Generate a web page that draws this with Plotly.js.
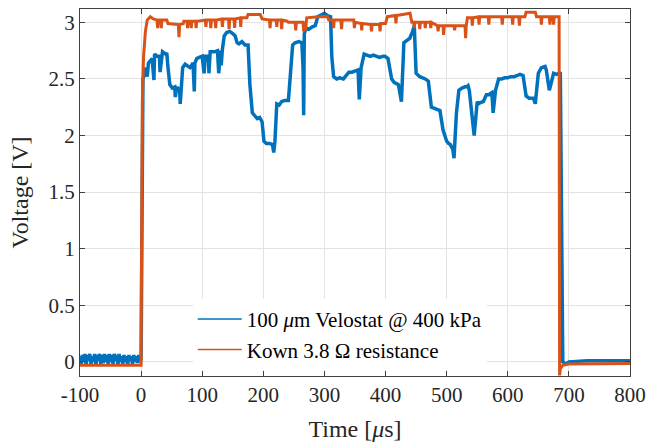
<!DOCTYPE html>
<html>
<head>
<meta charset="utf-8">
<script src="https://cdn.plot.ly/plotly-3.0.1.min.js"></script>
<style>html,body{margin:0;padding:0;background:#fff;}#chart{width:647px;height:445px;}</style>
</head>
<body>
<div id="chart"></div>
<script>
// ---- Series: 100 um Velostat @ 400 kPa ----
var blueT = [-100,-98,-96,-94,-92,-90,-88,-86,-84,-82,-80,-78,-76,-74,-72,-70,-68,-66,-64,-62,-60,-58,-56,-54,-52,-50,
  -48,-46,-44,-42,-40,-38,-36,-34,-32,-30,-28,-26,-24,-22,-20,-18,-16,-14,-12,-10,-8,-6,-4,-2,0,
  0.5,1.5,3,6,8,10,12,15,18,21,22,26,30,31,35,40,42,44,47,51,55,56,58,60,63,64,66,68,72,75,80,85,87,88,91,95,100,103,105,110,111,113,120,125,127,130,131,133,136,140,145,150,154,157,160,165,170,175,178,182,186,190,194,198,201,205,210,215,217,219,222,226,230,235,241,245,248,252,258,263,265,266,267,270,275,280,285,289,295,300,305,310,312,315,320,325,331,334,340,345,350,354,355,357,360,365,370,375,380,385,390,396,399,404,410,414,418,419,421,426,430,435,440,441,443,447,450,456,462,465,470,475,480,485,486,489,494,500,503,506,508,510,512,516,520,525,530,533,535,537,539,545,550,552,555,560,565,570,571,574,576,580,585,590,595,600,605,610,615,618,620,625,630,635,638,640,642,645,650,655,660,661,663,668,675,680,684,
  685,686,690,695,700,710,720,730,740,750,760,770,780,790,800];
var blueV = [0.05,-0.02,0.06,0.00,0.07,-0.03,0.06,0.01,0.07,-0.02,0.05,0.00,0.07,-0.03,0.06,0.01,0.07,-0.02,0.06,-0.01,0.07,0.00,0.06,-0.02,0.07,0.00,
  0.06,-0.02,0.07,0.01,0.06,-0.03,0.07,0.00,0.05,-0.02,0.06,0.00,0.05,-0.03,0.06,0.01,0.05,-0.02,0.06,0.00,0.05,-0.01,0.06,0.00,0.02,
  0.8,2.3,2.5,2.55,2.6,2.52,2.64,2.66,2.68,2.49,2.72,2.70,2.70,2.56,2.74,2.72,2.73,2.6,2.45,2.42,2.43,2.34,2.42,2.42,2.40,2.28,2.42,2.6,2.63,2.62,2.6,2.64,2.39,2.64,2.68,2.69,2.70,2.55,2.70,2.70,2.55,2.74,2.74,2.75,2.55,2.75,2.62,2.76,2.88,2.91,2.92,2.9,2.88,2.82,2.81,2.83,2.80,2.80,2.45,2.2,2.17,2.15,2.16,2.12,1.95,1.93,1.93,1.92,1.85,1.95,2.28,2.27,2.30,2.31,2.31,2.6,2.80,2.82,2.83,2.82,2.6,2.18,2.9,2.95,2.94,2.96,2.97,3.05,3.07,3.08,3.06,3.05,2.7,2.52,2.50,2.51,2.50,2.52,2.56,2.56,2.57,2.57,2.58,2.32,2.6,2.72,2.71,2.70,2.71,2.70,2.69,2.70,2.70,2.68,2.50,2.47,2.46,2.46,2.45,2.30,2.82,2.84,2.86,2.88,2.90,2.97,2.55,2.52,2.51,2.50,2.48,2.25,2.24,2.23,2.22,2.22,2.05,1.95,1.93,1.92,1.90,1.88,1.80,2.2,2.40,2.42,2.43,2.43,2.44,2.40,2.30,2.00,2.30,2.28,2.29,2.30,2.36,2.36,2.37,2.38,2.20,2.40,2.50,2.50,2.51,2.51,2.52,2.52,2.53,2.54,2.54,2.53,2.35,2.33,2.33,2.33,2.33,2.28,2.55,2.60,2.61,2.61,2.58,2.40,2.55,2.54,2.55,2.56,2.56,
  0.0,-0.02,0.0,0.005,0.005,0.01,0.01,0.01,0.015,0.01,0.01,0.01,0.01,0.01,0.01];

// ---- Series: Kown 3.8 Ohm resistance ----
var orangeT = [-100,0,0.3,1,2,4,7,10,15,20,26,27,28,32,33,34,42,44,55,61,62,63,69,70,75,76,77,81,82,83,89,90,91,100,105,106,107,113,114,115,121,122,123,132,133,134,143,144,145,152,153,154,162,163,164,173,175,195,198,210,211,212,221,222,223,229,230,231,239,241,252,253,254,265,266,267,269,271,290,305,307,314,315,316,327,328,329,348,349,350,360,361,362,376,377,378,390,391,392,400,403,416,417,418,440,443,446,447,448,455,456,457,464,465,466,473,474,475,481,485,486,487,494,495,496,512,513,514,530,531,532,534,541,542,543,552,553,554,568,569,570,590,591,592,607,608,609,618,619,620,628,630,645,647,654,655,656,668,669,670,674,675,676,684,684.8,686,690,700,800];
var orangeV = [-0.03,-0.03,0.5,1.6,2.3,2.7,2.92,3.02,3.05,3.03,3.02,2.95,3.02,3.02,2.95,3.02,3.02,2.99,2.98,2.98,2.87,2.98,2.99,3.01,3.01,2.95,3.01,3.01,2.95,3.01,3.01,2.95,3.01,3.02,3.02,2.96,3.02,3.02,2.95,3.02,3.02,2.95,3.02,3.03,2.96,3.03,3.03,2.94,3.03,3.03,2.95,3.03,3.04,2.96,3.04,3.04,3.07,3.07,3.03,3.02,2.95,3.02,3.02,2.96,3.02,3.02,2.94,3.02,3.01,3.0,3.0,2.93,3.0,3.0,2.92,3.0,2.93,3.04,3.05,3.05,3.02,3.02,2.95,3.02,3.02,2.94,3.02,3.02,2.95,3.0,2.99,2.93,2.99,2.98,2.92,2.98,2.98,2.92,2.99,2.99,3.05,3.06,2.99,3.06,3.08,3.0,3.0,2.95,3.0,3.0,2.94,3.0,3.0,2.95,3.0,3.0,2.95,3.0,2.98,2.97,2.92,2.97,2.97,2.89,2.97,2.97,2.93,2.97,2.97,2.86,2.97,3.04,3.04,2.97,3.04,3.05,2.98,3.05,3.05,2.98,3.05,3.05,2.98,3.05,3.05,2.98,3.05,3.05,2.97,3.05,3.05,3.09,3.09,3.05,3.05,2.98,3.05,3.05,2.98,3.05,3.05,2.98,3.05,3.05,-0.12,-0.06,-0.03,-0.02,-0.015];

var seriesNames = ['100 <i>μ</i>m Velostat @ 400 kPa', 'Kown 3.8 Ω resistance'];
var seriesColors = ['#0072BD', '#D95319'];
var xTicks = [-100,0,100,200,300,400,500,600,700,800];
var yTicks = [0,0.5,1,1.5,2,2.5,3];
var yTickLabels = ['0','0.5','1','1.5','2','2.5','3'];

var serif = 'Liberation Serif, DejaVu Serif, serif';
var traces = [
  {x: blueT, y: blueV, name: seriesNames[0], mode: 'lines', type: 'scatter', showlegend: false,
   line: {color: seriesColors[0], width: 3.5}},
  {x: orangeT, y: orangeV, name: seriesNames[1], mode: 'lines', type: 'scatter', showlegend: false,
   line: {color: seriesColors[1], width: 3}},
  // legend entries (thin lines like the reference key)
  {x: [null], y: [null], name: seriesNames[0], mode: 'lines', type: 'scatter',
   line: {color: seriesColors[0], width: 1.5}},
  {x: [null], y: [null], name: seriesNames[1], mode: 'lines', type: 'scatter',
   line: {color: seriesColors[1], width: 1.5}}
];
var axisCommon = {
  showline: true, linecolor: '#404040', linewidth: 1, mirror: 'ticks',
  ticks: 'inside', ticklen: 5, tickcolor: '#404040', tickwidth: 1,
  showgrid: true, gridcolor: '#e3e3e3', gridwidth: 1, zeroline: false,
  tickfont: {family: serif, size: 21, color: '#262626'}
};
var layout = {
  width: 647, height: 445,
  margin: {l: 80, r: 17, t: 9, b: 69},
  paper_bgcolor: '#fff', plot_bgcolor: '#fff',
  showlegend: true,
  legend: {x: 0.205, y: 0.21, xanchor: 'left', yanchor: 'top', bgcolor: '#fff',
           borderwidth: 0, itemwidth: 44, font: {family: serif, size: 21, color: '#000'}, tracegroupgap: 0},
  xaxis: Object.assign({}, axisCommon, {
    range: [-100, 800], tickvals: xTicks, ticktext: xTicks.map(String),
    title: {text: 'Time [<i>μ</i>s]', font: {family: serif, size: 24, color: '#262626'}, standoff: 13}
  }),
  yaxis: Object.assign({}, axisCommon, {
    range: [-0.125, 3.118], tickvals: yTicks, ticktext: yTickLabels,
    title: {text: 'Voltage [V]', font: {family: serif, size: 24, color: '#262626'}, standoff: 13}
  })
};
Plotly.newPlot('chart', traces, layout, {staticPlot: true, displayModeBar: false});
</script>
</body>
</html>
